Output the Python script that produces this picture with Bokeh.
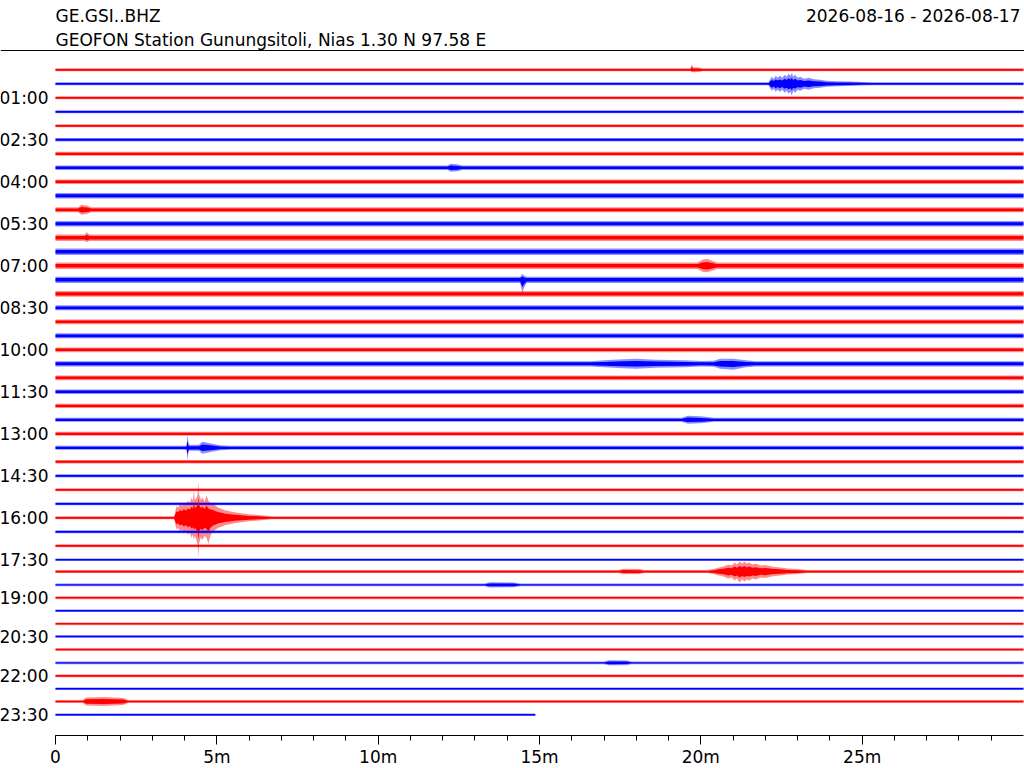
from bokeh.plotting import figure
from bokeh.models import Range1d, FixedTicker, Label, Span, ColumnDataSource
from bokeh.embed import file_html
from bokeh.resources import INLINE
from bokeh.core.properties import value

# ---------------- data ----------------
station = "GE.GSI..BHZ"
subtitle = "GEOFON Station Gunungsitoli, Nias  1.30 N 97.58 E"
date_span = "2026-08-16 - 2026-08-17"

n_traces = 48                      # one line per 30 minutes
trace_colors = ["red", "blue"]     # alternating
# DC level shift of each line (in line spacings)
trace_shift = [0.0] * 36 + [-0.16, -0.21, -0.29, -0.36, -0.43, -0.52,
                            -0.59, -0.64, -0.71, -0.79, -0.88, -0.93]
# minutes of data in each line
trace_end = [30.0] * 47 + [14.87]
# background noise half-amplitude of each line (1/14 of line spacing)
base_amp = [1.5, 1.5, 1.5, 1.5, 1.5, 1.7, 2.0, 2.2, 2.3, 2.7, 2.5, 2.8,
            3.2, 3.3, 3.3, 3.1, 2.9, 2.5, 2.4, 2.5, 2.4, 2.6, 2.4, 2.2,
            2.1, 2.0, 2.0, 2.0, 1.8, 1.6, 1.5, 1.5, 1.5, 1.5, 1.5, 1.3,
            1.5, 1.3, 1.4, 1.3, 1.4, 1.3, 1.4, 1.3, 1.4, 1.3, 1.5, 1.3]
# signal envelopes: line -> [(minute, amplitude up, amplitude down), ...]
events = {
    0: [(19.68, 1.5, 1.5), (19.72, 5.5, 2.5), (19.76, 2.5, 2.5), (19.95, 2.2, 2.2), (20.05, 1.5, 1.5)],
    1: [(22.10, 1.5, 1.5), (22.16, 5, 5), (22.20, 7, 7), (22.26, 5, 5), (22.32, 8, 8), (22.38, 6, 6),
        (22.45, 8, 8), (22.52, 6, 6), (22.60, 9, 9), (22.66, 7, 7), (22.72, 10, 10), (22.78, 8, 8),
        (22.82, 11, 12), (22.86, 7, 7), (22.92, 9, 9), (23.00, 6, 6), (23.08, 7, 7), (23.20, 5, 5),
        (23.35, 6, 6), (23.50, 4.5, 4.5), (23.70, 4, 4), (23.90, 3, 3), (24.20, 2.5, 2.5),
        (24.60, 2.2, 2.2), (25.00, 1.8, 1.8), (25.30, 1.5, 1.5)],
    7: [(12.15, 2.2, 2.2), (12.25, 4, 4), (12.45, 3.5, 3.5), (12.60, 2.2, 2.2)],
    10: [(0.70, 2.5, 2.5), (0.80, 5, 5), (1.00, 4, 4), (1.10, 2.5, 2.5)],
    12: [(0.90, 3.2, 3.2), (0.97, 5.5, 4.5), (1.05, 3.2, 3.2)],
    14: [(19.90, 3.3, 3.3), (20.05, 6, 6), (20.20, 7, 6.5), (20.35, 5, 5), (20.50, 3.3, 3.3)],
    15: [(14.40, 3.1, 3.1), (14.47, 6, 13), (14.52, 4, 8), (14.60, 3.1, 3.1)],
    21: [(16.60, 2.6, 2.6), (17.00, 3.5, 3.5), (17.60, 4.5, 4.5), (18.00, 5, 5), (18.60, 4, 4),
         (19.50, 3.5, 3.5), (20.00, 2.8, 2.8), (20.40, 3, 3), (20.60, 5, 5), (21.00, 5, 6),
         (21.40, 3.5, 3.5), (21.70, 2.6, 2.6)],
    25: [(19.40, 2, 2), (19.60, 4, 4), (20.00, 3.5, 3.5), (20.40, 2, 2)],
    27: [(4.06, 2, 2), (4.09, 13, 12), (4.13, 3, 3), (4.45, 3, 3), (4.55, 6, 6), (4.70, 5, 5),
         (4.85, 4, 4), (5.10, 2.5, 2.5), (5.40, 2, 2)],
    32: [(3.68, 1.5, 1.5), (3.72, 8, 8), (3.76, 12, 12), (3.80, 10, 10), (3.86, 14, 14),
         (3.92, 12, 12), (3.98, 16, 16), (4.04, 13, 13), (4.10, 17, 17), (4.16, 15, 15),
         (4.22, 20, 20), (4.26, 17, 17), (4.29, 27, 22), (4.32, 18, 18), (4.37, 20, 22),
         (4.41, 24, 28), (4.43, 37, 40), (4.45, 24, 26), (4.50, 18, 20), (4.56, 20, 22),
         (4.62, 16, 18), (4.68, 22, 20), (4.74, 17, 26), (4.80, 15, 18), (4.88, 14, 14),
         (4.96, 12, 12), (5.05, 10, 10), (5.15, 9, 9), (5.25, 7.5, 7.5), (5.40, 6.5, 6.5),
         (5.55, 5.5, 5.5), (5.75, 4.5, 4.5), (6.00, 3.5, 3.5), (6.30, 2.8, 2.8), (6.70, 1.5, 1.5)],
    36: [(17.45, 1.5, 1.5), (17.60, 2.8, 2.8), (18.10, 2.5, 2.5), (18.25, 1.5, 1.5),
         (20.20, 1.5, 1.5), (20.40, 2.5, 2.5), (20.55, 4, 4), (20.70, 5, 5), (20.85, 7, 7),
         (20.95, 6, 6), (21.05, 9, 9), (21.12, 7, 7), (21.20, 10, 11), (21.28, 8, 8),
         (21.35, 10, 10), (21.42, 8, 8), (21.50, 9, 9), (21.60, 7, 7), (21.70, 8, 8),
         (21.85, 6, 6), (22.00, 6.5, 6.5), (22.20, 5, 5), (22.45, 4, 4), (22.70, 3, 3),
         (23.00, 2.5, 2.5), (23.30, 1.5, 1.5)],
    37: [(13.30, 1.3, 1.3), (13.45, 2.6, 2.6), (14.20, 2.4, 2.4), (14.40, 1.3, 1.3)],
    43: [(17.00, 1.3, 1.3), (17.15, 2.5, 2.5), (17.70, 2.3, 2.3), (17.85, 1.3, 1.3)],
    46: [(0.85, 1.5, 1.5), (0.95, 4, 4), (1.50, 4.5, 4.5), (2.10, 3.5, 3.5), (2.25, 1.5, 1.5)],
}
label_traces = [2, 5, 8, 11, 14, 17, 20, 23, 26, 29, 32, 35, 38, 41, 44, 47]
label_texts = ["01:00", "02:30", "04:00", "05:30", "07:00", "08:30", "10:00", "11:30",
               "13:00", "14:30", "16:00", "17:30", "19:00", "20:30", "22:00", "23:30"]
x_ticks = [0, 5, 10, 15, 20, 25]
x_tick_labels = ["0", "5m", "10m", "15m", "20m", "25m"]
x_minor = list(range(0, 30))

# ---------------- build shapes ----------------
AMP = 1.0 / 14.0   # amplitude unit -> line spacing
rows = [k + trace_shift[k] for k in range(n_traces)]

outer_xs, outer_ys, inner_xs, inner_ys, cols = [], [], [], [], []
for k in range(n_traces):
    b = base_amp[k]
    pts = [(0.0, b, b)] + events.get(k, []) + [(trace_end[k], b, b)]
    t = [q[0] for q in pts]
    r = rows[k]
    up = [r - q[1] * AMP for q in pts]
    dn = [r + q[2] * AMP for q in pts]
    upi = [r - 0.55 * q[1] * AMP for q in pts]
    dni = [r + 0.55 * q[2] * AMP for q in pts]
    outer_xs.append(t + t[::-1]); outer_ys.append(up + dn[::-1])
    inner_xs.append(t + t[::-1]); inner_ys.append(upi + dni[::-1])
    cols.append(trace_colors[k % 2])

W, H = 1024, 768
LEFT = 55.0                     # pixel of minute 0
px_per_min = (1023.0 - LEFT) / 30.0
x_start = -LEFT / px_per_min
x_end = (W - LEFT) / px_per_min
ROW0 = 69.3                     # pixel of first line
y_top = -ROW0 / 14.0
y_bot = (H - ROW0) / 14.0

p = figure(width=W, height=H, output_backend="svg", toolbar_location=None,
           x_range=Range1d(x_start, x_end), y_range=Range1d(y_bot, y_top),
           min_border=0, min_border_left=0, min_border_right=0,
           min_border_top=0, min_border_bottom=0)
p.outline_line_color = None
p.grid.visible = False
p.yaxis.visible = False
p.background_fill_color = "white"

p.patches(xs=outer_xs, ys=outer_ys, fill_color=cols, fill_alpha=0.45, line_color=None)
p.patches(xs=inner_xs, ys=inner_ys, fill_color=cols, fill_alpha=1.0, line_color=None)

lab_src = ColumnDataSource(dict(x=[0.0] * len(label_traces),
                                y=[rows[k] for k in label_traces], text=label_texts))
p.text(x="x", y="y", text="text", source=lab_src, x_offset=-7, text_align="right",
       text_baseline="middle", text_font=value("DejaVu Sans"), text_font_size="17px",
       text_color="black")

ax = p.xaxis[0]
ax.fixed_location = (735.3 - ROW0) / 14.0
ax.ticker = FixedTicker(ticks=x_ticks, minor_ticks=x_minor)
ax.major_label_overrides = {t: s for t, s in zip(x_ticks, x_tick_labels)}
ax.bounds = (0, 30)
ax.major_tick_out = 9
ax.major_tick_in = 0
ax.minor_tick_out = 5
ax.minor_tick_in = 0
ax.major_label_standoff = 2
ax.axis_line_color = "black"
ax.major_tick_line_color = "black"
ax.minor_tick_line_color = "black"
ax.major_label_text_font = "DejaVu Sans"
ax.major_label_text_font_size = "17px"
ax.major_label_text_color = "black"

hdr1 = (15.5 - ROW0) / 14.0
hdr2 = (39.5 - ROW0) / 14.0
p.add_layout(Label(x=0, y=hdr1, text=station, text_font="DejaVu Sans",
                   text_font_size="17px", text_baseline="alphabetic", text_color="black"))
p.add_layout(Label(x=0, y=hdr2, text=subtitle, text_font="DejaVu Sans",
                   text_font_size="17px", text_baseline="alphabetic", text_color="black"))
p.add_layout(Label(x=30, y=hdr1, x_offset=-3, text=date_span, text_font="DejaVu Sans",
                   text_align="right", text_font_size="17px", text_baseline="alphabetic",
                   text_color="black"))
p.add_layout(Span(location=(50.0 - ROW0) / 14.0, dimension="width",
                  line_color="black", line_width=1))

open("out.html", "w").write(file_html(p, INLINE))
